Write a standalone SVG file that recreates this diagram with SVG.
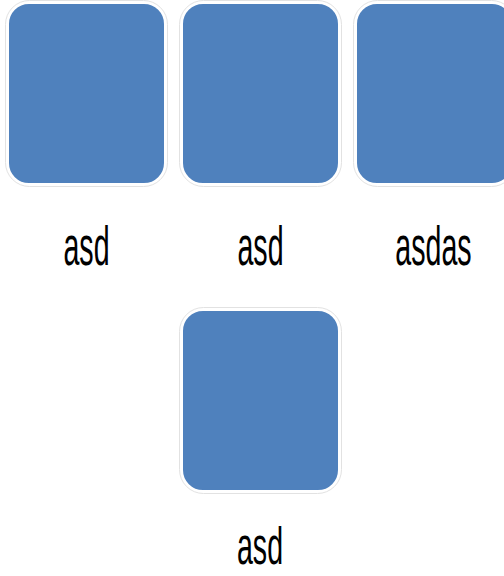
<svg xmlns="http://www.w3.org/2000/svg" width="504" height="576" viewBox="0 0 504 576">
  <defs>
    <style>
      .halo { fill: #ffffff; stroke: #e2e2e2; stroke-width: 1; }
      .tile { fill: #4f81bd; stroke: #ffffff; stroke-width: 2; }
      .label { font-family: "Liberation Sans", Arial, sans-serif; font-size: 55px; fill: #000000; text-anchor: middle; }
      .label-low { font-size: 52px; }
    </style>
  </defs>
  <rect width="504" height="576" fill="#ffffff"/>

  <g id="node1">
    <rect class="halo" x="5.5" y="0.5" width="162" height="186" rx="24"/>
    <rect class="tile" x="8" y="3" width="157" height="181" rx="21"/>
    <text class="label" transform="translate(86.5 265) scale(0.52 1)">asd</text>
  </g>

  <g id="node2">
    <rect class="halo" x="179.5" y="0.5" width="162" height="186" rx="24"/>
    <rect class="tile" x="182" y="3" width="157" height="181" rx="21"/>
    <text class="label" transform="translate(260.5 265) scale(0.52 1)">asd</text>
  </g>

  <g id="node3">
    <rect class="halo" x="353.5" y="0.5" width="162" height="186" rx="24"/>
    <rect class="tile" x="356" y="3" width="157" height="181" rx="21"/>
    <text class="label" transform="translate(433.5 265) scale(0.52 1)">asdas</text>
  </g>

  <g id="node4">
    <rect class="halo" x="179.5" y="307.5" width="162" height="186" rx="24"/>
    <rect class="tile" x="182" y="310" width="157" height="181" rx="21"/>
    <text class="label label-low" transform="translate(260 564) scale(0.55 1)">asd</text>
  </g>

  <g id="connectors"/>
</svg>
